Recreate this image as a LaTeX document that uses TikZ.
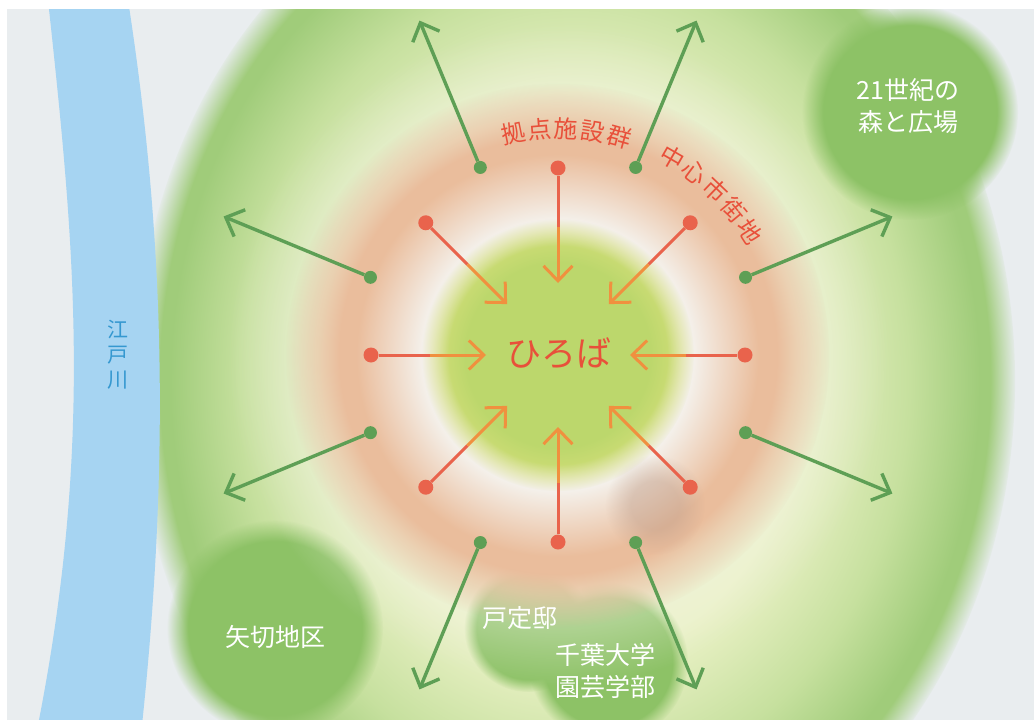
\documentclass[tikz,border=0pt]{standalone}
\usepackage{fontspec}
\setmainfont{Noto Sans CJK JP}
\usetikzlibrary{arrows.meta,fadings,calc}

\definecolor{paper}{HTML}{E9EDEF}
\definecolor{river}{HTML}{A6D4F2}
\definecolor{rivertext}{HTML}{3598D0}
\definecolor{fieldgreen}{HTML}{A0CC7A}
\definecolor{fieldmid}{HTML}{C6E09E}
\definecolor{fieldpale}{HTML}{ECF2C8}
\definecolor{halo}{HTML}{F0F3E6}
\definecolor{ring}{HTML}{EABD9C}
\definecolor{ringrim}{HTML}{E6B292}
\definecolor{ringinner}{HTML}{F4F0EA}
\definecolor{hub}{HTML}{BCD76C}
\definecolor{hubrim}{HTML}{D2DE78}
\definecolor{grove}{HTML}{8DC266}
\definecolor{arrowgreen}{HTML}{5E9F55}
\definecolor{arrowred}{HTML}{E9634C}
\definecolor{arroworange}{HTML}{F0903F}
\definecolor{labelred}{HTML}{E8503A}
\definecolor{smudge}{HTML}{B89A8A}

% fadings for soft-edged washes: opaque core, fading out towards the rim
\pgfdeclareradialshading{rimAshade}{\pgfpointorigin}{color(0bp)=(white); color(23.5bp)=(white); color(25bp)=(black); color(50bp)=(black)}
\pgfdeclarefading{rimA}{\pgfuseshading{rimAshade}}
\pgfdeclareradialshading{rimBshade}{\pgfpointorigin}{color(0bp)=(white); color(20bp)=(white); color(25bp)=(black); color(50bp)=(black)}
\pgfdeclarefading{rimB}{\pgfuseshading{rimBshade}}
\pgfdeclareradialshading{rimCshade}{\pgfpointorigin}{color(0bp)=(white); color(12bp)=(white); color(25bp)=(black); color(50bp)=(black)}
\pgfdeclarefading{rimC}{\pgfuseshading{rimCshade}}

% colour of the open field, the town ring and the square
\pgfdeclareradialshading{fieldshade}{\pgfpointorigin}{color(0bp)=(fieldpale); color(13bp)=(fieldpale); color(19bp)=(fieldmid); color(23bp)=(fieldgreen); color(25bp)=(fieldgreen); color(50bp)=(fieldgreen)}
\pgfdeclareradialshading{ringshade}{\pgfpointorigin}{color(0bp)=(ringinner); color(12.5bp)=(ringinner); color(18.5bp)=(ring); color(22bp)=(ring); color(25bp)=(ringrim); color(50bp)=(ringrim)}
\pgfdeclareradialshading{hubshade}{\pgfpointorigin}{color(0bp)=(hub); color(17bp)=(hub); color(23bp)=(hubrim); color(25bp)=(hubrim); color(50bp)=(hubrim)}

\begin{document}
\begin{tikzpicture}[x=1pt,y=-1pt,
  gdot/.style={circle,fill=arrowgreen,inner sep=0pt,minimum size=13pt},
  rdot/.style={circle,fill=arrowred,inner sep=0pt,minimum size=15pt},
  greenline/.style={draw=arrowgreen,line width=3.4pt,
    -{Straight Barb[length=15pt,width=29pt]}},
  redline/.style={draw=arrowred,line width=3pt},
  orangeline/.style={draw=arroworange,line width=3pt,
    -{Straight Barb[length=15pt,width=29pt]}},
  whitelabel/.style={text=white,font=\fontsize{25}{32}\selectfont,align=center,inner sep=0pt},
  arclabel/.style={text=labelred,font=\fontsize{24}{26}\selectfont,inner sep=0pt},
  wash/.style={path fading=rimB}]

\useasboundingbox (0,0) rectangle (1034,720);
\fill[white] (0,0) rectangle (1034,720);
\fill[paper] (7,9) rectangle (1034,720);

\begin{scope}
\clip (7,9) rectangle (1034,720);

% open field
\shade[shading=fieldshade,path fading=rimA] (575,380) ellipse [x radius=440,y radius=530];

% river
\fill[river] (48,0) .. controls (74,240) and (94,440) .. (38,725)
  -- (142,725) .. controls (172,440) and (162,220) .. (128,0) -- cycle;

% green groves
\fill[grove,wash] (910,112) circle [radius=108];
\fill[grove,wash] (275,628) circle [radius=108];
\fill[grove,wash] (528,628) circle [radius=64];
\fill[grove,wash] (608,662) circle [radius=80];

% pale halo, town ring, central square
\coordinate (C) at (558,355);
\fill[halo,path fading=rimC] (C) circle [radius=330];
\shade[shading=ringshade,path fading=rimB] (C) circle [radius=272];
\fill[smudge,opacity=0.4,path fading=rimC] (655,505) circle [radius=50];
\shade[shading=hubshade,wash] (C) circle [radius=136];
\end{scope}

% labels
\node[text=rivertext,font=\fontsize{21}{25}\selectfont,align=center,inner sep=0pt] (edo) at (118,355) {江\\戸\\川};
\node[whitelabel] (mori) at (908,106) {21世紀の\\森と広場};
\node[whitelabel] (yagiri) at (275,637) {矢切地区};
\node[whitelabel] (tojo) at (520,618) {戸定邸};
\node[whitelabel] (chiba) at (605,671) {千葉大学\\園芸学部};
\node[text=labelred,font=\fontsize{35}{40}\selectfont,inner sep=0pt] (hiroba) at (559,353) {ひろば};

\foreach \ch [count=\i] in {拠,点,施,設,群} {
  \pgfmathsetmacro\ang{-11.5+6.8*(\i-1)}
  \pgfmathsetmacro\rot{-\ang}
  \node[arclabel,rotate=\rot] (kyoten\i) at ($(C)+({\ang-90}:226)$) {\ch};
}
\foreach \ch [count=\i] in {中,心,市,街,地} {
  \pgfmathsetmacro\ang{30+6.8*(\i-1)}
  \pgfmathsetmacro\rot{-\ang}
  \node[arclabel,rotate=\rot] (chushin\i) at ($(C)+({\ang-90}:228)$) {\ch};
}

% arrows into the square
\foreach \a [count=\i] in {0,45,...,315} {
  \coordinate (rm\i) at ($(C)+(\a:128)$);
  \coordinate (rt\i) at ($(C)+(\a:72)$);
  \node[rdot] (rd\i) at ($(C)+(\a:187)$) {};
  \draw[redline] (rd\i) -- (rm\i);
  \draw[orangeline] (rm\i) -- (rt\i);
}

% arrows out to the surroundings
\foreach \a [count=\i] in {22.5,67.5,...,337.5} {
  \coordinate (gt\i) at ($(C)+(\a:362)$);
  \node[gdot] (gd\i) at ($(C)+(\a:203)$) {};
  \draw[greenline] (gd\i) -- (gt\i);
}
\end{tikzpicture}
\end{document}
